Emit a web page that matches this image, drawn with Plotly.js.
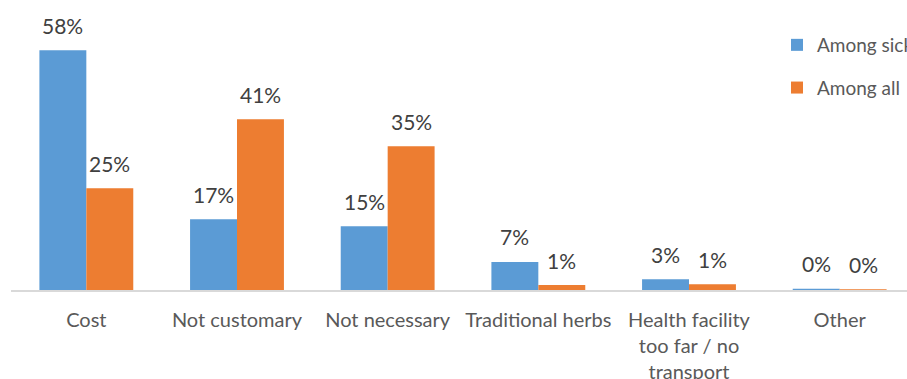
<!DOCTYPE html>
<html>
<head>
<meta charset="utf-8">
<script src="https://cdn.plot.ly/plotly-3.0.1.min.js"></script>
<style>
html,body{margin:0;padding:0;overflow:hidden;background:#fff;}
#chart{width:960px;height:379px;}
</style>
</head>
<body>
<div id="chart"></div>
<script>
const categories = ["Cost", "Not customary", "Not necessary", "Traditional herbs", "Health facility<br>too far / no<br>transport", "Other"];
const seriesNames = ["Among sick", "Among all"];
const amongSick = [0.58, 0.171, 0.154, 0.068, 0.026, 0.003];
const amongAll = [0.246, 0.413, 0.348, 0.012, 0.014, 0.002];
const colors = ["#5b9bd5", "#ed7d31"];

const FONT = "Lato, 'Open Sans', sans-serif";

const traces = [amongSick, amongAll].map((vals, k) => ({
  type: "bar",
  name: seriesNames[k],
  x: categories,
  y: vals,
  marker: {color: colors[k]},
  legendgroup: "g" + k,
  hoverinfo: "skip"
}));

const annotations = [];
[amongSick, amongAll].forEach((vals, k) => {
  vals.forEach((v, i) => {
    annotations.push({
      x: categories[i], y: v, xref: "x", yref: "y",
      text: Math.round(v * 100) + "%",
      showarrow: false,
      xshift: k === 0 ? -23.5 : 23.5,
      yshift: 25,
      font: {family: FONT, size: 21, color: "#404040"}
    });
  });
});

const layout = {
  width: 960, height: 379,
  margin: {l: 10.5, r: 44.5, t: 41.6, b: 89.4, autoexpand: false},
  paper_bgcolor: "#fff", plot_bgcolor: "#fff",
  barmode: "group", bargap: 0.377, bargroupgap: 0,
  font: {family: FONT, color: "#595959"},
  xaxis: {
    type: "category",
    showline: true, linecolor: "#d9d9d9", linewidth: 1.5,
    showgrid: false, ticks: "", tickangle: 0,
    tickfont: {family: FONT, size: 20, color: "#595959"},
    ticklabelstandoff: 11,
    automargin: false,
    range: [-0.5, 5.5]
  },
  yaxis: {range: [0, 0.6], visible: false, showgrid: false, zeroline: false},
  showlegend: true,
  legend: {
    x: 777/960, xanchor: "left", xref: "container",
    y: 1 - 26/379, yanchor: "top", yref: "container",
    traceorder: "grouped", tracegroupgap: 15,
    font: {family: FONT, size: 19, color: "#595959"},
    bgcolor: "rgba(0,0,0,0)"
  },
  annotations: annotations
};

Plotly.newPlot("chart", traces, layout, {displayModeBar: false, staticPlot: true});
</script>
</body>
</html>
